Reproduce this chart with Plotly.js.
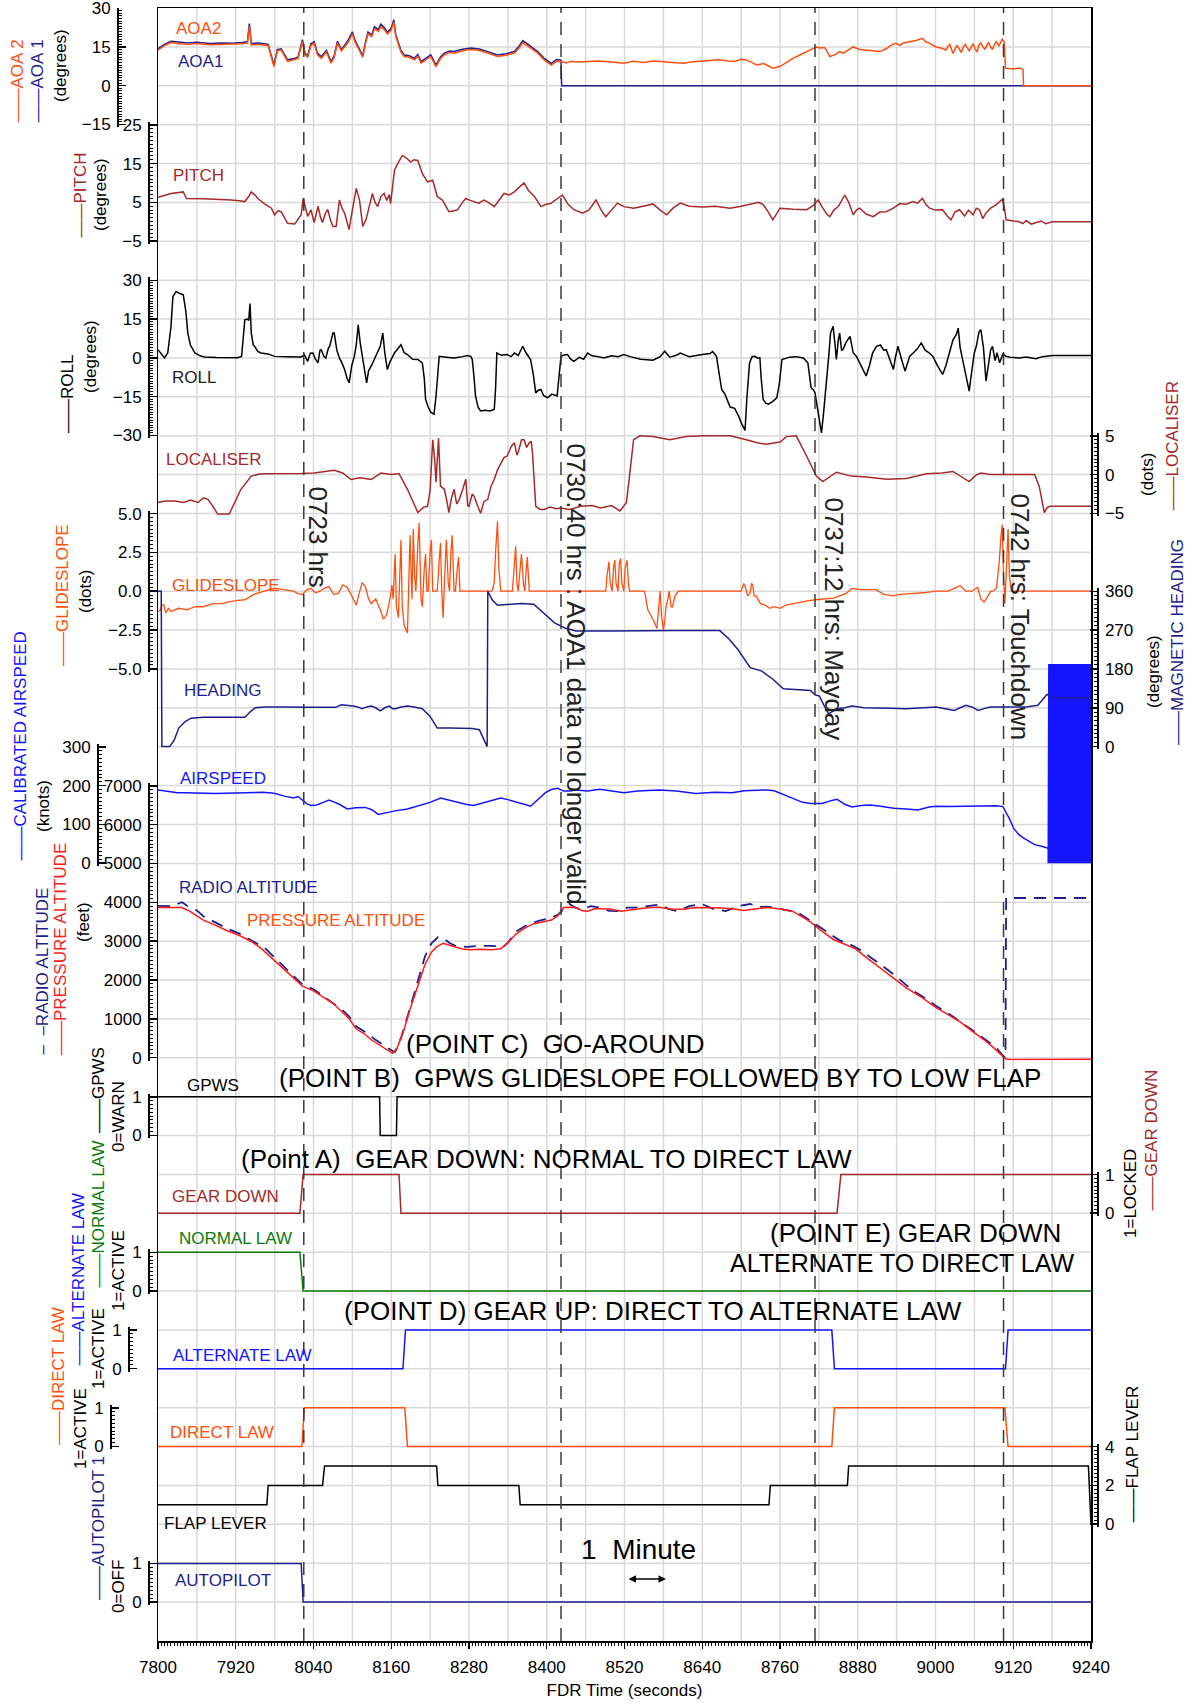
<!DOCTYPE html>
<html><head><meta charset="utf-8">
<script src="https://cdn.plot.ly/plotly-3.0.1.min.js"></script>
<style>html,body{margin:0;padding:0;background:#fff}#chart{width:1192px;height:1704px}</style>
</head><body><div id="chart"></div>
<script>
// ---------------- DATA (time in FDR seconds, value) ----------------
const AOA2 = [[7800,13.8],[7810,15.5],[7820,16.7],[7833,16.2],[7846,16],[7860,16.3],[7880,15.8],[7898,16],[7915,15.9],[7930,16.2],[7938,16.5],[7941,23],[7944,15.8],[7955,16],[7970,15.5],[7979,7.4],[7984,13.5],[7990,13.8],[8000,9.4],[8010,10],[8016,10.5],[8023,17],[8027,12],[8031,11],[8036,15.5],[8041,16.4],[8046,12],[8052,10.6],[8060,13],[8067,8.7],[8072,11],[8077,16.5],[8083,13.5],[8088,15],[8094,17],[8100,20],[8104,17],[8108,15],[8116,11],[8120,16],[8124,20],[8130,19],[8134,22],[8140,21],[8144,22.8],[8150,21.5],[8154,20],[8160,21.5],[8164,24.7],[8167,19],[8170,16.4],[8175,13],[8180,11.3],[8188,11],[8196,10],[8201,11.5],[8206,8.7],[8214,10],[8221,11.3],[8229,7.4],[8236,10.5],[8242,12],[8250,12.8],[8257,12.6],[8270,13.5],[8283,14],[8296,13.6],[8309,12.6],[8317,12],[8324,11.3],[8337,11.8],[8350,12.6],[8357,14.5],[8363,16.7],[8370,15.5],[8378,14],[8386,12.6],[8396,10],[8407,8],[8415,9.5],[8422,9.4],[8430,8.8],[8437,9.4],[8450,9.2],[8463,9.4],[8480,9.6],[8500,9.2],[8519,8.7],[8534,9.5],[8550,9.0],[8564,9.6],[8590,9.2],[8611,8.7],[8625,9.3],[8640,9.5],[8655,9.8],[8667,10],[8680,9.6],[8690,9.4],[8700,10.2],[8708,10],[8716,9],[8724,8],[8735,8.6],[8742,7.6],[8749,6.8],[8760,7.4],[8770,9],[8780,10.6],[8790,11.8],[8801,13.2],[8808,14],[8816,15],[8822,14.6],[8829,14.8],[8837,11.3],[8845,12],[8852,13.2],[8858,12.6],[8866,14],[8873,15],[8883,14],[8893,13.8],[8904,13.5],[8914,13.2],[8925,14.5],[8932,15.8],[8939,16.4],[8945,15.6],[8950,16.5],[8960,17],[8970,17.5],[8980,18.3],[8985,17],[8990,16.5],[9001,15],[9010,14.5],[9016,13.8],[9019,15.2],[9022,16],[9025,13.9],[9027,12.5],[9031,14.6],[9033,15.5],[9037,14.1],[9040,12.8],[9043,15.1],[9046,16],[9049,14.6],[9052,13.5],[9056,15.3],[9058,16.2],[9061,14.4],[9064,13],[9067,15.8],[9070,16.5],[9073,15.2],[9076,14],[9079,15.5],[9082,16.8],[9085,15.1],[9088,14],[9091,16.1],[9094,17],[9098,15.5],[9101,16.9],[9103,18],[9106,17],[9108,6.8],[9120,6.5],[9130,6.8],[9135,6.2],[9136,0],[9240,0]];
const AOA1 = [[7800,14.3],[7810,16],[7820,17.2],[7833,16.8],[7846,16.5],[7860,16.8],[7880,16.3],[7898,16.5],[7915,16.4],[7930,16.7],[7938,17],[7941,24],[7944,16.3],[7955,16.5],[7970,16],[7979,8],[7984,14],[7990,14.3],[8000,10],[8010,10.5],[8016,11],[8023,17.8],[8027,12.5],[8031,11.6],[8036,16.2],[8041,17],[8046,12.6],[8052,11.2],[8060,13.6],[8067,9.3],[8072,11.6],[8077,17.2],[8083,14],[8088,15.6],[8094,17.8],[8100,20.8],[8104,17.6],[8108,15.6],[8116,11.6],[8120,16.6],[8124,20.8],[8130,19.7],[8134,22.8],[8140,21.7],[8144,23.8],[8150,22.2],[8154,20.6],[8160,22.3],[8164,25.5],[8167,19.6],[8170,17],[8175,13.6],[8180,11.9],[8188,11.6],[8196,10.6],[8201,12.1],[8206,9.3],[8214,10.6],[8221,11.9],[8229,8],[8236,11.1],[8242,12.6],[8250,13.4],[8257,13.2],[8270,14.1],[8283,14.6],[8296,14.2],[8309,13.2],[8317,12.6],[8324,11.9],[8337,12.4],[8350,13.2],[8357,15.2],[8363,17.5],[8370,16.2],[8378,14.6],[8386,13.2],[8396,10.6],[8407,8.6],[8415,10.1],[8422,9.9],[8423,0],[9240,0]];
const PITCH = [[7800,6.3],[7820,7.3],[7839,7.7],[7844,6.0],[7870,5.9],[7900,5.8],[7913,5.6],[7925,5.4],[7934,5.2],[7940,6.5],[7944,7.7],[7950,6.8],[7954,6.0],[7964,4.7],[7975,3.5],[7980,1.8],[7985,2.8],[7990,2.6],[8000,-0.4],[8011,-0.6],[8021,1.8],[8024,6.0],[8028,3.0],[8031,1.4],[8036,3.1],[8041,-0.2],[8047,4.0],[8051,1.0],[8054,-0.2],[8058,2.0],[8062,3.2],[8066,0.5],[8070,-1.2],[8075,-1.2],[8080,5.6],[8084,3.5],[8088,2.2],[8092,-0.5],[8095,-2.0],[8100,3.0],[8106,8.6],[8111,5.6],[8116,-1.2],[8121,0.5],[8126,4.0],[8131,7.3],[8135,5.0],[8139,3.9],[8144,6.5],[8149,7.3],[8153,5.5],[8157,7.0],[8159,4.7],[8165,13.3],[8170,15.0],[8177,17.1],[8183,16.5],[8190,15.4],[8195,16.0],[8201,15.8],[8208,12.4],[8216,10.3],[8224,10.7],[8231,6.5],[8239,5.6],[8244,4.0],[8249,2.6],[8255,2.8],[8262,3.0],[8270,5.0],[8275,6.0],[8282,5.5],[8288,5.2],[8295,4.8],[8303,5.6],[8310,5.0],[8319,3.9],[8326,5.5],[8334,7.3],[8342,6.9],[8350,7.7],[8358,9.0],[8365,10.0],[8372,8.0],[8381,6.5],[8391,3.9],[8399,4.5],[8406,4.7],[8415,5.8],[8424,6.9],[8433,4.5],[8442,3.1],[8450,2.6],[8455,2.2],[8465,3.0],[8476,5.6],[8484,3.0],[8491,1.3],[8500,3.0],[8509,4.8],[8519,3.9],[8534,3.5],[8549,4.0],[8564,4.6],[8575,3.0],[8585,1.8],[8595,3.5],[8606,4.8],[8620,4.0],[8641,3.8],[8660,4.0],[8683,3.5],[8700,4.0],[8719,4.6],[8727,5.0],[8734,4.4],[8742,2.5],[8749,0.5],[8755,2.0],[8760,3.5],[8780,3.2],[8801,3.1],[8810,4.0],[8819,5.6],[8826,3.5],[8833,1.8],[8837,1.3],[8843,3.0],[8850,3.9],[8855,5.5],[8860,6.9],[8866,5.0],[8873,1.8],[8878,3.0],[8883,3.5],[8893,2.0],[8904,1.3],[8914,2.5],[8924,2.6],[8935,3.5],[8945,4.7],[8955,4.5],[8965,5.2],[8972,4.8],[8980,6.0],[8985,4.5],[8991,3.5],[9000,3.0],[9011,3.1],[9018,1.5],[9024,0.5],[9030,2.5],[9037,3.1],[9045,1.5],[9051,3.0],[9058,1.8],[9063,3.5],[9068,3.1],[9073,0.8],[9078,2.3],[9085,3.5],[9093,4.3],[9098,5.0],[9103,5.8],[9106,4.0],[9109,0.5],[9120,0.2],[9129,0.0],[9135,-0.5],[9140,0.3],[9148,-0.6],[9155,-0.3],[9163,0.2],[9170,-0.5],[9181,0.0],[9240,0.0]];
const ROLL = [[7800,3.2],[7805,1.5],[7810,0],[7815,1.9],[7820,12],[7823,23.7],[7828,25.6],[7833,25],[7839,24.4],[7843,18],[7846,9.6],[7850,5],[7857,1.9],[7865,0.8],[7872,0.4],[7890,0.2],[7910,0.3],[7923,0.1],[7929,0.6],[7932,8],[7934,14.7],[7938,15],[7940,14.5],[7942,21],[7943,10],[7944,9.6],[7947,5],[7949,4.5],[7954,2.5],[7959,1.9],[7970,1.5],[7980,0.6],[8000,0.5],[8021,0.4],[8026,1.2],[8031,-1.3],[8035,1.8],[8039,1.9],[8043,-0.5],[8047,-1.9],[8050,3.0],[8052,3.2],[8056,0.5],[8059,0],[8063,3.8],[8065,4.5],[8070,9.6],[8072,9.6],[8076,3.0],[8080,0],[8084,-2.0],[8088,-4.5],[8092,-8.0],[8095,-9.6],[8099,-3.0],[8103,0.6],[8106,5.0],[8109,12.8],[8112,6.0],[8116,0.6],[8119,-5.0],[8122,-9.6],[8125,-5.0],[8129,-3.2],[8133,-1.0],[8139,1.9],[8143,4.5],[8147,9.6],[8150,2.0],[8154,-4.5],[8158,-1.5],[8165,1.9],[8170,3.5],[8175,5.1],[8180,2.0],[8185,1.3],[8193,-0.5],[8201,-0.6],[8208,-1.9],[8211,-8.0],[8213,-16],[8217,-19],[8221,-21],[8226,-21.8],[8229,-15],[8232,-3],[8234,0.6],[8245,0.3],[8257,0],[8270,0.5],[8278,0.9],[8283,0.5],[8285,-0.6],[8288,-8],[8290,-14.7],[8294,-19],[8298,-20.5],[8305,-20.2],[8312,-20.5],[8319,-19.9],[8321,-12],[8323,1.9],[8330,1.0],[8339,1.3],[8345,0.5],[8350,1.9],[8356,1.0],[8363,4.5],[8368,2.0],[8375,-0.6],[8379,-6],[8383,-13.5],[8387,-12.5],[8391,-12.2],[8395,-14.5],[8401,-15.4],[8408,-14],[8416,-14.7],[8419,-8],[8422,0.6],[8428,1.2],[8432,1.3],[8437,-0.5],[8442,-1.3],[8450,0.2],[8457,-0.5],[8463,1.9],[8470,0.8],[8480,0.5],[8488,0],[8500,0.8],[8510,0.5],[8519,1.3],[8530,0.4],[8545,-0.5],[8564,-0.9],[8575,0.5],[8582,2.6],[8590,0.3],[8600,1.0],[8606,1.9],[8620,0.5],[8640,1.3],[8652,1.7],[8656,2.5],[8662,0.6],[8666,-6],[8670,-12.2],[8675,-14],[8683,-19],[8690,-19.5],[8696,-22.4],[8700,-25],[8706,-28],[8709,-15],[8713,-1.9],[8717,0.5],[8721,0.6],[8725,0],[8729,0],[8731,-8],[8734,-16],[8738,-17.5],[8742,-17.9],[8748,-17],[8755,-15.4],[8759,-10],[8763,-0.6],[8775,0.3],[8785,0.5],[8796,0],[8800,-1.0],[8803,-1.9],[8808,-11.5],[8812,-12.5],[8814,-13.5],[8818,-20],[8822,-27],[8824,-29],[8827,-22],[8832,-9.6],[8835,0],[8838,9.6],[8842,12.2],[8845,5],[8847,-0.6],[8850,7],[8852,9.6],[8855,3],[8857,3.2],[8862,6],[8868,8.3],[8873,2],[8878,0.6],[8885,-3],[8893,-7.0],[8898,-3],[8903,2],[8909,4.5],[8915,5],[8920,3],[8924,3.2],[8930,-1],[8935,-4.5],[8938,0],[8942,4.5],[8947,0],[8953,-5.1],[8957,-2],[8960,0.6],[8966,2],[8972,3.5],[8978,5.8],[8984,3],[8990,2],[8996,0.6],[9003,-3],[9011,-6.4],[9016,-3],[9022,3],[9027,7.0],[9032,9],[9035,11.5],[9038,4],[9042,-0.6],[9047,-6],[9052,-12.8],[9056,-5],[9060,2],[9063,4.5],[9067,10],[9070,10.9],[9074,4],[9078,-9.0],[9082,-2],[9085,3],[9088,4.5],[9092,-1],[9095,2],[9099,-1.9],[9104,1.5],[9109,0.6],[9115,0.3],[9129,0],[9140,0.4],[9155,-0.3],[9165,0.5],[9181,0.9],[9240,0.9]];
const LOCALISER = [[7800,-3.6],[7812,-3.4],[7826,-3.4],[7840,-3.6],[7850,-3.3],[7862,-3.6],[7870,-3.0],[7877,-3.2],[7884,-4.0],[7892,-5.1],[7910,-5.1],[7928,-1.9],[7944,-0.2],[7955,0.05],[7964,0.1],[8000,0.1],[8021,0.13],[8041,0.2],[8060,0.4],[8072,0.56],[8085,0.2],[8098,-0.64],[8112,-0.4],[8129,-0.64],[8144,0.2],[8160,0.0],[8172,0.13],[8185,-1.9],[8201,-4.9],[8210,-4.2],[8216,-4.1],[8220,-2.0],[8224,4.5],[8227,2.0],[8229,-1.0],[8231,1.5],[8233,4.7],[8236,-1.5],[8242,-1.9],[8246,-3.5],[8249,-4.9],[8253,-3.0],[8257,-1.9],[8261,-3.8],[8265,-3.2],[8270,-2.0],[8275,-0.6],[8278,-4.0],[8280,-4.1],[8285,-2.5],[8288,-2.8],[8293,-4.0],[8298,-5.0],[8303,-3.5],[8309,-3.2],[8314,-1.5],[8319,-0.6],[8324,0.6],[8329,1.5],[8334,2.2],[8339,2.4],[8345,3.6],[8350,4.1],[8354,2.5],[8357,3.2],[8361,4.5],[8365,4.5],[8369,3.5],[8373,4.1],[8376,4.3],[8378,2.8],[8381,-1.0],[8383,-4.1],[8390,-4.5],[8396,-4.5],[8405,-4.2],[8415,-4.4],[8422,-4.3],[8435,-4.5],[8453,-4.1],[8470,-4.0],[8483,-4.3],[8500,-4.0],[8513,-4.7],[8519,-4.1],[8523,-3.6],[8528,0],[8534,4.5],[8544,5.0],[8564,4.9],[8590,4.5],[8615,4.9],[8641,5.0],[8683,5.0],[8708,4.5],[8725,4.1],[8739,3.9],[8760,4.2],[8770,4.9],[8785,5.0],[8801,2.4],[8816,-0.2],[8826,-0.9],[8847,0.3],[8870,-0.2],[8893,-0.3],[8925,-0.6],[8955,-0.5],[8986,0.1],[9010,0.2],[9027,0.4],[9040,-0.3],[9052,-0.9],[9062,-0.1],[9070,0.2],[9085,0],[9104,0],[9153,0],[9160,-1.5],[9168,-4.9],[9172,-4.3],[9176,-4.1],[9240,-4.1]];
const GLIDESLOPE = [[7800,-1.3],[7803,-1.24],[7806,-0.9],[7809,-0.9],[7812,-1.4],[7816,-1.1],[7820,-1.3],[7832,-1.1],[7845,-1.2],[7857,-1.0],[7870,-1.0],[7885,-0.8],[7900,-0.8],[7907,-0.7],[7920,-0.6],[7934,-0.55],[7948,-0.2],[7962,0.0],[7975,0.15],[7981,0.18],[7995,0.1],[8009,0.0],[8016,-0.15],[8023,-0.2],[8030,0.1],[8036,0.18],[8043,-0.1],[8050,0.0],[8057,0.2],[8064,0.3],[8071,-0.2],[8078,-0.15],[8085,0.4],[8092,0.25],[8099,-0.3],[8106,-0.9],[8110,-0.2],[8115,0.55],[8120,0.3],[8125,-0.5],[8129,-0.8],[8136,-0.5],[8143,-1.2],[8148,-1.8],[8153,-1.5],[8158,-0.5],[8161,0.4],[8163,-0.5],[8166,2.4],[8168,-1.0],[8171,-1.7],[8175,3.3],[8177,-1.0],[8180,-2.2],[8185,-2.7],[8187,1.0],[8189,3.6],[8192,-0.5],[8194,4.0],[8196,1.0],[8198,0],[8201,3.0],[8203,4.4],[8206,-0.5],[8208,-1.0],[8211,1.5],[8213,2.4],[8215,0],[8217,0],[8220,2.5],[8222,3.3],[8224,0],[8226,0],[8231,0],[8234,2.0],[8236,3.1],[8238,0],[8240,-1.7],[8243,1.5],[8245,3.3],[8248,0.5],[8250,0],[8252,2.5],[8254,3.6],[8257,0],[8259,0],[8262,1.5],[8264,2.2],[8266,0],[8315,0],[8317,0.2],[8319,0.6],[8321,2.5],[8324,4.5],[8326,1.5],[8329,0],[8347,0],[8350,1.5],[8352,2.9],[8354,0.5],[8356,0],[8359,1.5],[8361,2.4],[8364,0.5],[8366,0],[8368,1.2],[8370,2.2],[8373,0],[8491,0],[8493,1.0],[8496,1.9],[8498,0.5],[8501,0],[8503,1.5],[8505,2.0],[8507,0.5],[8510,0],[8512,1.8],[8514,2.1],[8516,0.5],[8519,0],[8521,1.5],[8524,2.0],[8526,0.5],[8528,0],[8551,0],[8556,-1.2],[8561,-1.6],[8565,-1.9],[8570,-2.4],[8573,-1.0],[8575,0],[8577,-1.5],[8580,-2.5],[8582,-2.0],[8584,-1.0],[8587,-0.5],[8589,0],[8592,-1.0],[8594,-1.0],[8598,-0.3],[8603,0],[8700,0],[8702,0.3],[8704,0.5],[8707,0.2],[8710,-0.3],[8714,-0.1],[8716,0.5],[8718,0.4],[8720,-0.3],[8723,-0.3],[8730,-0.8],[8737,-0.9],[8744,-1.1],[8751,-1.0],[8760,-1.1],[8769,-0.9],[8780,-0.8],[8796,-0.7],[8805,-0.6],[8815,-0.55],[8830,-0.5],[8843,-0.45],[8852,-0.3],[8862,-0.14],[8871,0.18],[8885,0.1],[8908,0.1],[8920,-0.2],[8935,-0.3],[8945,-0.2],[8960,-0.15],[8982,-0.1],[9000,0.0],[9019,0.0],[9030,0.2],[9038,0.35],[9047,0.0],[9056,0.0],[9065,0.25],[9070,-0.5],[9075,-0.7],[9080,-0.4],[9085,0.0],[9089,0.0],[9094,0.2],[9098,1.7],[9101,3.5],[9103,4.3],[9105,1.0],[9107,-0.8],[9109,1.0],[9112,4.0],[9114,1.0],[9117,0],[9240,0]];
const HEADING = [[7800,360],[7805,360],[7806,0],[7818,0],[7825,15],[7832,43],[7842,58],[7851,66],[7870,68],[7900,68],[7934,68],[7942,80],[7950,90],[7965,92],[7981,92.5],[8000,92],[8030,91],[8060,92],[8074,91],[8083,97],[8092,96],[8101,94],[8108,92],[8115,88],[8122,92],[8129,94],[8136,90],[8143,83],[8150,90],[8157,94],[8162,88],[8166,88],[8175,92],[8185,94],[8195,92],[8208,88],[8220,70],[8231,43],[8250,43],[8268,43],[8285,42],[8296,39],[8308,0],[8309,360],[8316,340],[8324,328],[8340,330],[8361,332],[8380,330],[8395,310],[8412,287],[8428,275],[8445,268],[8500,268],[8537,269],[8600,269],[8667,269],[8681,250],[8695,225],[8714,183],[8732,175],[8750,155],[8765,134],[8790,131],[8807,130],[8814,120],[8821,117],[8828,95],[8835,76],[8842,82],[8848,88],[8860,90],[8871,94],[8890,90],[8908,90],[8930,89],[8955,88],[8975,90],[9001,92],[9015,88],[9029,84],[9038,90],[9047,96],[9056,92],[9066,84],[9075,88],[9084,92],[9100,92],[9121,92],[9140,92],[9158,96],[9165,108],[9172,121],[9176,118],[9181,113],[9240,113]];
const AIRSPEED = [[7800,189],[7815,186],[7830,182],[7842,181.6],[7860,181],[7888,180],[7920,181],[7940,182],[7962,183],[7975,181],[7981,180],[7995,173],[8009,168],[8016,172],[8023,163],[8030,153],[8036,149],[8045,150],[8055,157],[8064,163],[8073,157],[8080,152],[8092,140],[8105,143],[8120,144],[8130,138],[8140,126],[8150,130],[8166,135],[8185,140],[8203,149],[8220,157],[8236,168],[8250,162],[8259,159],[8275,152],[8287,149],[8305,157],[8320,164],[8329,168],[8340,164],[8352,159],[8365,152],[8375,147],[8385,163],[8398,182],[8407,190],[8417,193],[8426,186],[8435,186],[8445,189],[8463,186],[8482,191],[8500,186],[8519,182],[8540,186],[8574,189],[8600,186],[8630,180],[8660,183],[8686,182],[8705,187],[8723,189],[8740,189],[8751,187],[8765,178],[8779,168],[8795,157],[8807,154],[8825,154],[8840,162],[8848,165],[8860,152],[8871,145],[8885,149],[8899,150],[8915,147],[8936,142],[8955,140],[8973,137],[8990,145],[9001,147],[9020,146],[9047,147],[9070,148],[9094,148],[9104,146],[9108,135],[9114,115],[9121,89],[9128,75],[9135,66],[9145,55],[9153,48],[9165,43],[9172,39],[9175,38]];
const AIRSPEED_INVALID = [[9174,0],[9175,513],[9176,0],[9177,513],[9178,0],[9179,513],[9180,0],[9181,513],[9182,0],[9183,513],[9184,0],[9185,513],[9186,0],[9187,513],[9188,0],[9189,513],[9190,0],[9191,513],[9192,0],[9193,513],[9194,0],[9195,513],[9196,0],[9197,513],[9198,0],[9199,513],[9200,0],[9201,513],[9202,0],[9203,513],[9204,0],[9205,513],[9206,0],[9207,513],[9208,0],[9209,513],[9210,0],[9211,513],[9212,0],[9213,513],[9214,0],[9215,513],[9216,0],[9217,513],[9218,0],[9219,513],[9220,0],[9221,513],[9222,0],[9223,513],[9224,0],[9225,513],[9226,0],[9227,513],[9228,0],[9229,513],[9230,0],[9231,513],[9232,0],[9233,513],[9234,0],[9235,513],[9236,0],[9237,513],[9238,0],[9239,513],[9240,0]];
const PRESSURE_ALT = [[7800,3864],[7837,3864],[7850,3760],[7870,3542],[7890,3400],[7907,3266],[7925,3150],[7944,2990],[7960,2800],[7981,2484],[8000,2200],[8023,1840],[8040,1720],[8055,1564],[8070,1400],[8083,1196],[8095,1000],[8106,736],[8118,620],[8129,460],[8145,300],[8155,180],[8162,110],[8168,200],[8175,500],[8180,736],[8190,1300],[8203,1932],[8212,2400],[8222,2714],[8230,2850],[8240,2944],[8255,2880],[8268,2806],[8282,2780],[8296,2790],[8315,2780],[8329,2806],[8340,2950],[8352,3174],[8365,3320],[8380,3450],[8395,3500],[8407,3542],[8417,3650],[8426,3864],[8435,3870],[8445,3864],[8455,3780],[8463,3770],[8475,3840],[8490,3820],[8500,3818],[8515,3770],[8525,3800],[8537,3818],[8555,3860],[8574,3870],[8590,3830],[8611,3818],[8630,3864],[8649,3864],[8670,3850],[8690,3830],[8704,3790],[8720,3830],[8741,3864],[8760,3830],[8779,3772],[8795,3620],[8807,3496],[8825,3250],[8843,3036],[8860,2920],[8876,2806],[8890,2620],[8908,2392],[8930,2100],[8955,1794],[8980,1540],[9001,1288],[9020,1100],[9038,920],[9055,700],[9075,460],[9090,250],[9103,46],[9108,-30],[9112,-50],[9240,-40]];
const RADIO_ALT = [[7800,3910],[7820,3900],[7837,4002],[7846,3900],[7860,3790],[7870,3640],[7890,3470],[7907,3320],[7925,3200],[7948,2990],[7965,2820],[7981,2560],[8000,2260],[8023,1880],[8040,1760],[8050,1640],[8065,1470],[8083,1250],[8095,1060],[8106,800],[8120,660],[8134,480],[8150,300],[8162,170],[8166,150],[8175,500],[8185,1050],[8195,1650],[8203,2116],[8212,2600],[8222,2944],[8232,3100],[8240,3082],[8250,2950],[8259,2880],[8278,2850],[8296,2880],[8315,2880],[8333,2850],[8342,3000],[8352,3240],[8370,3420],[8389,3530],[8405,3590],[8417,3680],[8426,3830],[8435,3956],[8444,3860],[8454,3818],[8468,3900],[8482,3864],[8496,3780],[8510,3772],[8524,3860],[8537,3864],[8555,3900],[8574,3937],[8588,3830],[8602,3772],[8620,3900],[8639,3956],[8657,3830],[8676,3772],[8695,3900],[8714,3956],[8728,3880],[8741,3890],[8760,3830],[8787,3740],[8800,3600],[8815,3430],[8835,3190],[8852,3020],[8870,2900],[8885,2760],[8900,2580],[8917,2380],[8940,2080],[8964,1740],[8985,1520],[9001,1330],[9025,1080],[9047,830],[9065,610],[9084,380],[9095,230],[9103,70],[9108,0],[9109,4110],[9240,4110]];
const GPWS = [[7800,1],[8142,1],[8143,0],[8168,0],[8169,1],[9240,1]];
const GEAR_DOWN = [[7800,0],[8019,0],[8024,1],[8172,1],[8175,0],[8848,0],[8854,1],[9240,1]];
const NORMAL_LAW = [[7800,1],[8019,1],[8024,0],[9240,0]];
const ALTERNATE_LAW = [[7800,0],[8178,0],[8182,1],[8840,1],[8844,0],[9108,0],[9112,1],[9240,1]];
const DIRECT_LAW = [[7800,0],[8022,0],[8026,1],[8181,1],[8185,0],[8840,0],[8844,1],[9107,1],[9112,0],[9240,0]];
const FLAP_LEVER = [[7800,1],[7968,1],[7970,2],[8054,2],[8057,3],[8230,3],[8232,2],[8357,2],[8359,1],[8743,1],[8745,2],[8864,2],[8866,3],[9236,3],[9240,0]];
const AUTOPILOT = [[7800,1],[8021,1],[8024,0],[9240,0]];
const EVENT_TIMES = [8025, 8422, 8814, 9105];
const EVENT_LABELS = ['0723 hrs', '0730:40 hrs : AOA1 data no longer valid', '0737:12 hrs: Mayday', '0742 hrs: Touchdown'];

// ---------------- LAYOUT GEOMETRY ----------------
const W = 1192, H = 1704, PL = 158, PR = 1091, PT = 8, PB = 1641, NU = 42;
const FONT = 'Liberation Sans, Arial, sans-serif';
const ORANGE = '#ff4f0f', NAVY = '#1e1e8c', BROWN = '#a52a2a', BLUE = '#1414ff', GREEN = '#0c7a0c', RED = '#ff1a1a';
const xp = x => x / W;
const yp = y => (PB - y) / (PB - PT);

function panelAxis(u0, u1, a, b, xpx, side, dtick, minorDtick, extra) {
  const k = (b - a) / (u1 - u0), p = 0.07, eps = 0.004;
  const d0 = Math.max(0, u0 - p), d1 = Math.min(NU, u1 + p);
  return Object.assign({
    domain: [d0 / NU, d1 / NU], range: [a - (u0 - d0 + eps) * k, b + (d1 - u1 + eps) * k],
    anchor: 'free', position: xpx / W, side: side,
    showline: true, linecolor: 'black', linewidth: 1.5,
    ticks: 'inside', ticklen: 7, tickwidth: 1.5, tickcolor: 'black',
    tickmode: 'linear', tick0: a, dtick: dtick,
    minor: {ticks: 'inside', ticklen: 3, tickwidth: 1, tickcolor: 'black', dtick: minorDtick, tick0: a, showgrid: false},
    showgrid: false, zeroline: false, fixedrange: true, ticklabeloverflow: 'allow',
    tickfont: {family: FONT, size: 17, color: 'black'}, ticklabelstandoff: 3
  }, extra || {});
}

const split = arr => [arr.map(p => p[0]), arr.map(p => p[1])];
function line(data, yaxis, color, width, dash) {
  const [x, y] = split(data);
  return {type: 'scatter', mode: 'lines', x: x, y: y, xaxis: 'x', yaxis: yaxis,
    line: {color: color, width: width || 1.5, dash: dash || 'solid'}, hoverinfo: 'skip', showlegend: false};
}

const traces = [
  {type: 'scatter', mode: 'lines', x: [], y: [], xaxis: 'x', yaxis: 'y', showlegend: false},
  line(AOA1, 'y2', NAVY, 1.5),
  line(AOA2, 'y2', ORANGE, 1.5),
  line(PITCH, 'y3', BROWN, 1.5),
  line(ROLL, 'y4', 'black', 1.5),
  line(LOCALISER, 'y5', BROWN, 1.5),
  line(GLIDESLOPE, 'y6', ORANGE, 1.3),
  line(AIRSPEED_INVALID, 'y7', BLUE, 1.6),
  line(HEADING, 'y8', NAVY, 1.5),
  line(AIRSPEED, 'y9', BLUE, 1.5),
  line(RADIO_ALT, 'y10', NAVY, 1.8, '12px,8px'),
  line(PRESSURE_ALT, 'y10', RED, 1.5),
  line(GPWS, 'y11', 'black', 1.5),
  line(GEAR_DOWN, 'y12', BROWN, 1.5),
  line(NORMAL_LAW, 'y13', GREEN, 1.5),
  line(ALTERNATE_LAW, 'y14', BLUE, 1.5),
  line(DIRECT_LAW, 'y15', ORANGE, 1.5),
  line(FLAP_LEVER, 'y16', 'black', 1.5),
  line(AUTOPILOT, 'y17', NAVY, 1.5)
];

const shapes = [];
for (let t = 7860; t < 9240; t += 60) {
  shapes.push({type: 'line', xref: 'x', yref: 'y', x0: t, x1: t, y0: 0, y1: NU, layer: 'below', line: {color: '#d9d9d9', width: 1.5}});
}
for (let k = 1; k < NU; k++) {
  shapes.push({type: 'line', xref: 'x', yref: 'y', x0: 7800, x1: 9240, y0: k, y1: k, layer: 'below', line: {color: '#d9d9d9', width: 1.5}});
}
EVENT_TIMES.forEach(t => shapes.push({type: 'line', xref: 'x', yref: 'paper', x0: t, x1: t, y0: 0, y1: 1, layer: 'above', line: {color: '#3a3a3a', width: 1.5, dash: '13px,9px'}}));

const ann = [];
function T(text, x, y, color, size, o) {
  ann.push(Object.assign({text: text, x: xp(x), y: yp(y), xref: 'paper', yref: 'paper', showarrow: false,
    xanchor: 'left', yanchor: 'middle', font: {family: FONT, size: size || 17, color: color || 'black'}}, o || {}));
}
function V(text, x, ybot, color) { T(text, x, ybot, color, 17, {textangle: -90, xanchor: 'center', yanchor: 'bottom'}); }
function VC(text, x, yc, color) { T(text, x, yc, color, 17, {textangle: -90, xanchor: 'center', yanchor: 'middle'}); }

// in-plot labels
T('AOA2', 174, 28, ORANGE); T('AOA1', 176, 62, NAVY); T('PITCH', 171, 176, BROWN);
T('ROLL', 170, 378, '#222'); T('LOCALISER', 164, 460, BROWN); T('GLIDESLOPE', 170, 585, ORANGE);
T('HEADING', 182, 690, NAVY); T('AIRSPEED', 178, 778, BLUE); T('RADIO ALTITUDE', 177, 887, NAVY);
T('PRESSURE ALTITUDE', 245, 921, ORANGE); T('GPWS', 185, 1085, 'black'); T('GEAR DOWN', 170, 1196, BROWN);
T('NORMAL LAW', 177, 1238, GREEN); T('ALTERNATE LAW', 171, 1355, BLUE); T('DIRECT LAW', 168, 1432, ORANGE);
T('FLAP LEVER', 162, 1523, 'black'); T('AUTOPILOT', 173, 1580, NAVY);

// side labels
V('——AOA 2', 17, 125, ORANGE); V('——AOA 1', 37, 125, NAVY); VC('(degrees)', 60, 65);
V('——PITCH', 80, 240, BROWN); VC('(degrees)', 100, 195);
V('——ROLL', 68, 435, 'black'); VC('(degrees)', 90, 357);
V('——LOCALISER', 1172, 513, BROWN); VC('(dots)', 1147, 475);
V('——GLIDESLOPE', 62, 668, ORANGE); VC('(dots)', 85, 592);
V('——MAGNETIC HEADING', 1177, 747, NAVY); VC('(degrees)', 1153, 672);
V('——CALIBRATED AIRSPEED', 20, 863, BLUE); VC('(knots)', 43, 806);
V('–  –RADIO ALTITUDE', 42, 1057, NAVY); V('——PRESSURE ALTITUDE', 60, 1057, RED); VC('(feet)', 83, 922);
V('——GPWS', 98, 1135, 'black'); VC('0=WARN', 118, 1117);
V('——GEAR DOWN', 1151, 1213, BROWN); VC('1=LOCKED', 1130, 1194);
V('——NORMAL LAW', 98, 1290, GREEN); VC('1=ACTIVE', 118, 1271);
V('——ALTERNATE LAW', 78, 1368, BLUE); VC('1=ACTIVE', 98, 1349);
V('——DIRECT LAW', 58, 1447, ORANGE); VC('1=ACTIVE', 80, 1429);
V('——AUTOPILOT 1', 98, 1602, NAVY); VC('0=OFF', 118, 1587);
V('——FLAP LEVER', 1132, 1525, 'black');

// event labels (rotated, reading downward)
const evX = [318, 576, 834, 1020], evTop = [485, 441, 495, 491];
EVENT_LABELS.forEach((s, i) => T(s, evX[i], evTop[i], '#222', 26, {textangle: 90, xanchor: 'center', yanchor: 'top'}));

// narrative annotations
const NB = '\u00a0';
T('(POINT C)' + NB + NB + 'GO-AROUND', 404, 1044, 'black', 26);
T('(POINT B)' + NB + NB + 'GPWS GLIDESLOPE FOLLOWED BY TO LOW FLAP', 277, 1078, 'black', 26);
T('(Point A)' + NB + NB + 'GEAR DOWN: NORMAL TO DIRECT LAW', 239, 1159, 'black', 26);
T('(POINT E) GEAR DOWN', 1063, 1233, 'black', 26, {xanchor: 'right'});
T('ALTERNATE TO DIRECT LAW', 1076, 1263, 'black', 25, {xanchor: 'right'});
T('(POINT D) GEAR UP: DIRECT TO ALTERNATE LAW', 342, 1311, 'black', 26);
T('1' + NB + NB + 'Minute', 579, 1549, 'black', 28);
ann.push({x: 8584, y: yp(1579), xref: 'x', yref: 'paper', ax: 8524, ay: 0, axref: 'x', ayref: 'pixel',
  showarrow: true, arrowhead: 2, arrowside: 'end+start', arrowsize: 1, arrowwidth: 1.5, arrowcolor: 'black', text: ''});

const layout = {
  width: W, height: H, margin: {l: 0, r: 0, t: PT, b: H - PB, pad: 0},
  paper_bgcolor: 'white', plot_bgcolor: 'rgba(0,0,0,0)', showlegend: false,
  font: {family: FONT, size: 17, color: 'black'},
  xaxis: {domain: [xp(PL), xp(PR)], range: [7800, 9240], anchor: 'y',
    showline: true, mirror: true, linecolor: 'black', linewidth: 1.5,
    ticks: 'outside', ticklen: 6, tickwidth: 1.2, tickcolor: 'black', tickmode: 'linear', tick0: 7800, dtick: 120,
    minor: {ticks: 'outside', ticklen: 3, tickwidth: 1, tickcolor: 'black', dtick: 5, showgrid: false},
    showgrid: false, zeroline: false, fixedrange: true, tickfont: {size: 17}, ticklabelstandoff: 4,
    title: {text: 'FDR Time (seconds)', font: {size: 17}, standoff: 8}},
  yaxis: {domain: [0, 1], range: [0, NU], anchor: 'x', showline: true, mirror: true, linecolor: 'black', linewidth: 1.5,
    ticks: '', showticklabels: false, showgrid: false, zeroline: false, fixedrange: true},
  yaxis2: panelAxis(39, 42, -15, 30, 117, 'left', 15, 1),
  yaxis3: panelAxis(36, 39, -5, 25, 148, 'left', 10, 1),
  yaxis4: panelAxis(31, 35, -30, 30, 148, 'left', 15, 1),
  yaxis5: panelAxis(29, 31, -5, 5, 1097, 'right', 5, 0.5),
  yaxis6: panelAxis(25, 29, -5, 5, 148, 'left', 2.5, 0.25, {tickformat: '.1f'}),
  yaxis7: {domain: [20 / NU, 25.4 / NU], range: [0, 540], anchor: 'free', position: 0.5, visible: false, fixedrange: true},
  yaxis8: panelAxis(23, 27, 0, 360, 1097, 'right', 90, 10),
  yaxis9: panelAxis(20, 23, 0, 300, 97, 'left', 100, 10),
  yaxis10: panelAxis(15, 22, 0, 7000, 148, 'left', 1000, 100, {tickformat: 'd'}),
  yaxis11: panelAxis(13, 14, 0, 1, 148, 'left', 1, 0.1),
  yaxis12: panelAxis(11, 12, 0, 1, 1097, 'right', 1, 0.1),
  yaxis13: panelAxis(9, 10, 0, 1, 148, 'left', 1, 0.1),
  yaxis14: panelAxis(7, 8, 0, 1, 128, 'left', 1, 0.1),
  yaxis15: panelAxis(5, 6, 0, 1, 110, 'left', 1, 0.1),
  yaxis16: panelAxis(3, 5, 0, 4, 1097, 'right', 2, 0.2),
  yaxis17: panelAxis(1, 2, 0, 1, 148, 'left', 1, 0.1),
  shapes: shapes, annotations: ann
};

Plotly.newPlot('chart', traces, layout, {staticPlot: true, displayModeBar: false});
</script></body></html>
